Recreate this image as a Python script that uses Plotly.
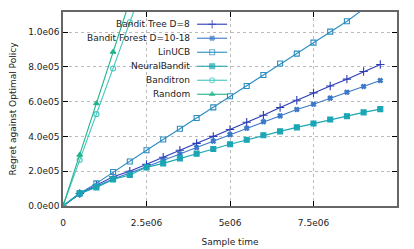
import plotly.graph_objects as go

# ---- data ----
sample_time = [0, 0.5e6, 1.0e6, 1.5e6, 2.0e6, 2.5e6, 3.0e6, 3.5e6, 4.0e6, 4.5e6,
               5.0e6, 5.5e6, 6.0e6, 6.5e6, 7.0e6, 7.5e6, 8.0e6, 8.5e6, 9.0e6, 9.5e6]

bandit_tree = [0, 0.072e6, 0.120e6, 0.168e6, 0.200e6, 0.239e6, 0.280e6, 0.320e6, 0.360e6, 0.400e6,
               0.440e6, 0.481e6, 0.522e6, 0.566e6, 0.608e6, 0.650e6, 0.690e6, 0.729e6, 0.773e6, 0.813e6]
bandit_forest = [0, 0.068e6, 0.114e6, 0.155e6, 0.190e6, 0.225e6, 0.262e6, 0.299e6, 0.336e6, 0.373e6,
                 0.410e6, 0.447e6, 0.484e6, 0.518e6, 0.555e6, 0.585e6, 0.620e6, 0.654e6, 0.687e6, 0.721e6]
linucb = [0, 0.073e6, 0.130e6, 0.195e6, 0.256e6, 0.320e6, 0.382e6, 0.444e6, 0.506e6, 0.567e6,
          0.631e6, 0.690e6, 0.753e6, 0.819e6, 0.876e6, 0.939e6, 1.002e6, 1.062e6, 1.132e6, 1.195e6]
neural_bandit = [0, 0.073e6, 0.107e6, 0.153e6, 0.178e6, 0.222e6, 0.245e6, 0.274e6, 0.301e6, 0.328e6,
                 0.355e6, 0.381e6, 0.407e6, 0.429e6, 0.452e6, 0.474e6, 0.497e6, 0.516e6, 0.538e6, 0.557e6]
banditron = [0, 0.264e6, 0.528e6, 0.790e6, 1.056e6, 1.320e6, 1.584e6]
random_pol = [0, 0.293e6, 0.589e6, 0.885e6, 1.180e6, 1.475e6, 1.770e6]

series_names = ["Bandit Tree D=8", "Bandit Forest D=10-18", "LinUCB", "NeuralBandit", "Banditron", "Random"]
series_values = [bandit_tree, bandit_forest, linucb, neural_bandit, banditron, random_pol]
series_colors = ["#2b3cb6", "#3b78c8", "#2a8cc0", "#1aa6b4", "#44c6c0", "#20b48a"]
series_symbols = ["cross-thin", "x", "square-open", "square", "circle-open", "triangle-up"]
series_sizes = [6, 4, 5, 5, 5, 5]

y_tick_vals = [0, 2e5, 4e5, 6e5, 8e5, 1e6]
y_tick_text = ["0.0e00", "2.0e05", "4.0e05", "6.0e05", "8.0e05", "1.0e06"]
x_tick_vals = [0, 2.5e6, 5e6, 7.5e6]
x_tick_text = ["0", "2.5e06", "5e06", "7.5e06"]

FONT = "DejaVu Sans"
FS = 9

fig = go.Figure()

for name, vals, col, sym, sz in zip(series_names, series_values, series_colors, series_symbols, series_sizes):
    fig.add_trace(go.Scatter(
        x=sample_time[:len(vals)], y=vals, mode="lines+markers", name=name,
        line=dict(color=col, width=1.1),
        marker=dict(symbol=sym, size=sz, color=col, line=dict(color=col, width=1.1)),
        showlegend=False,
    ))

# custom legend (text right-aligned, sample on the right), in overlay axes spanning the plot area
row_top = 0.937
row_step = 0.0722
for i, (name, col, sym, sz) in enumerate(zip(series_names, series_colors, series_symbols, series_sizes)):
    yy = row_top - i * row_step
    fig.add_trace(go.Scatter(
        x=[0.4015, 0.4466, 0.4914], y=[yy, yy, yy], mode="lines+markers",
        line=dict(color=col, width=1.1),
        marker=dict(symbol=sym, size=[0, sz, 0], color=col, line=dict(color=col, width=1.1)),
        xaxis="x2", yaxis="y2", showlegend=False, hoverinfo="skip",
    ))
    fig.add_annotation(x=0.387, y=yy, xref="paper", yref="paper", text=name,
                       showarrow=False, xanchor="right", yanchor="middle",
                       font=dict(family=FONT, size=FS, color="#222"))

fig.update_layout(
    width=414, height=249,
    margin=dict(l=63, r=17, t=12, b=43),
    paper_bgcolor="white", plot_bgcolor="white",
    font=dict(family=FONT, size=FS, color="#222"),
    xaxis=dict(range=[0, 1e7], tickvals=x_tick_vals, ticktext=x_tick_text, automargin=False,
               showgrid=True, gridcolor="#bbbbbb", griddash="dot", gridwidth=1,
               zeroline=False, showline=True, linecolor="#666", linewidth=1.5, mirror="ticks",
               ticks="inside", ticklen=5, tickcolor="#000", ticklabelstandoff=7,
               title=dict(text="Sample time", font=dict(size=FS), standoff=12)),
    yaxis=dict(range=[0, 1.115e6], tickvals=y_tick_vals, ticktext=y_tick_text, automargin=False,
               showgrid=True, gridcolor="#bbbbbb", griddash="dot", gridwidth=1,
               zeroline=False, showline=True, linecolor="#666", linewidth=1.5, mirror="ticks",
               ticks="inside", ticklen=5, tickcolor="#000",
               title=dict(text="Regret against Optimal Policy", font=dict(size=FS), standoff=10)),
    xaxis2=dict(range=[0, 1], overlaying="x", visible=False, fixedrange=True),
    yaxis2=dict(range=[0, 1], overlaying="y", visible=False, fixedrange=True),
)

fig.write_html("out.html", config={"displayModeBar": False},
               post_script="document.body.style.margin='0px';")
